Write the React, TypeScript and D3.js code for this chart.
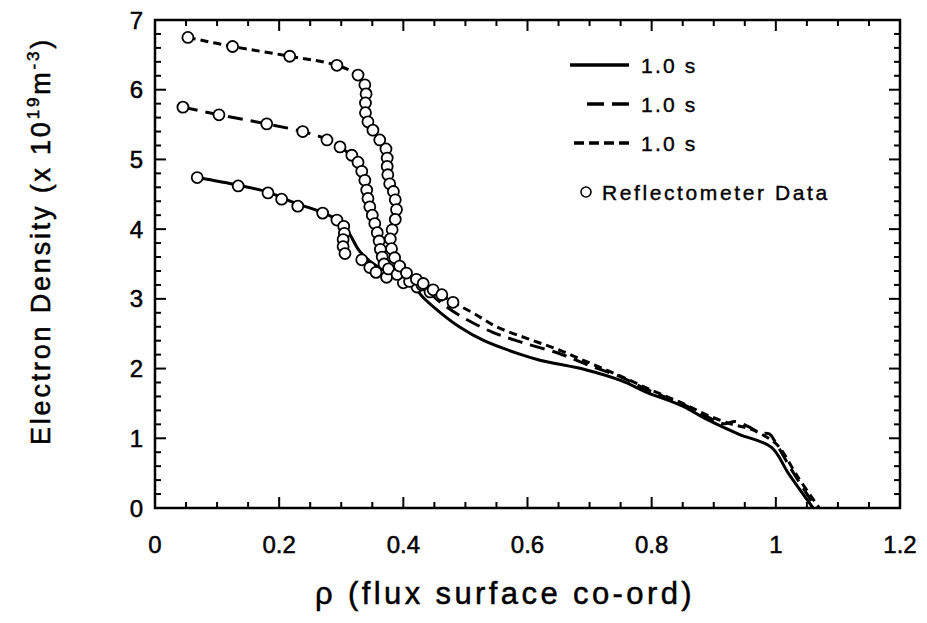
import React from "react";
import * as d3 from "d3";

const W = 927;
const H = 623;

const xTicks = [0, 0.2, 0.4, 0.6, 0.8, 1, 1.2];
const xTickLabels = ["0", "0.2", "0.4", "0.6", "0.8", "1", "1.2"];
const yTicks = [0, 1, 2, 3, 4, 5, 6, 7];
const yTickLabels = ["0", "1", "2", "3", "4", "5", "6", "7"];

// Model profiles (rho, density)
const solidLine: [number, number][] = [
  [0.068, 4.74], [0.134, 4.63], [0.182, 4.53], [0.23, 4.36], [0.27, 4.24], [0.295, 4.12],
  [0.312, 3.95], [0.33, 3.68], [0.357, 3.47], [0.385, 3.35], [0.41, 3.25], [0.432, 3.02],
  [0.46, 2.8], [0.49, 2.6], [0.53, 2.4], [0.59, 2.2], [0.62, 2.12], [0.695, 1.98],
  [0.75, 1.83], [0.792, 1.66], [0.85, 1.46], [0.889, 1.27], [0.94, 1.06], [0.993, 0.87],
  [1.02, 0.5], [1.06, 0],
];
const longDashLine: [number, number][] = [
  [0.045, 5.75], [0.103, 5.64], [0.18, 5.51], [0.238, 5.4], [0.277, 5.29], [0.298, 5.18],
  [0.316, 5.06], [0.327, 4.95], [0.333, 4.78], [0.339, 4.6], [0.343, 4.4], [0.349, 4.23],
  [0.355, 4.05], [0.36, 3.86], [0.365, 3.66], [0.369, 3.52], [0.378, 3.42], [0.392, 3.33],
  [0.412, 3.24], [0.432, 3.16], [0.46, 2.95], [0.491, 2.76], [0.544, 2.52], [0.593, 2.37],
  [0.65, 2.22], [0.695, 2.06], [0.75, 1.88], [0.792, 1.7], [0.85, 1.49], [0.889, 1.31],
  [0.915, 1.21], [0.935, 1.24], [0.955, 1.17], [0.975, 1.08], [0.99, 1.06], [1.0, 0.93],
  [1.03, 0.48], [1.065, 0],
];
const shortDashLine: [number, number][] = [
  [0.053, 6.75], [0.125, 6.62], [0.217, 6.48], [0.293, 6.35], [0.327, 6.21], [0.338, 6.07],
  [0.34, 5.94], [0.339, 5.81], [0.339, 5.67], [0.343, 5.54], [0.351, 5.42], [0.362, 5.28],
  [0.372, 5.15], [0.374, 5.02], [0.374, 4.9], [0.375, 4.77], [0.38, 4.62], [0.385, 4.48],
  [0.389, 4.3], [0.387, 4.13], [0.381, 3.99], [0.379, 3.85], [0.381, 3.7], [0.386, 3.59],
  [0.394, 3.47], [0.405, 3.37], [0.421, 3.28], [0.437, 3.2], [0.455, 3.1], [0.48, 2.95],
  [0.512, 2.8], [0.55, 2.6], [0.6, 2.43], [0.65, 2.27], [0.7, 2.08], [0.75, 1.89],
  [0.8, 1.69], [0.85, 1.5], [0.89, 1.33], [0.93, 1.2], [0.96, 1.13], [0.99, 0.99],
  [1.005, 0.88], [1.035, 0.45], [1.07, 0],
];

// Reflectometer data (rho, density)
const dataLow: [number, number][] = [
  [0.068, 4.74], [0.134, 4.62], [0.182, 4.52], [0.204, 4.43], [0.23, 4.33], [0.27, 4.23],
  [0.293, 4.13], [0.304, 4.04], [0.305, 3.94], [0.303, 3.85], [0.303, 3.75], [0.306, 3.65],
  [0.333, 3.56], [0.346, 3.45], [0.356, 3.38], [0.373, 3.31], [0.4, 3.23], [0.422, 3.17],
  [0.443, 3.1], [0.459, 3.05],
];
const dataMid: [number, number][] = [
  [0.045, 5.75], [0.103, 5.64], [0.18, 5.51], [0.238, 5.4], [0.277, 5.28], [0.298, 5.18],
  [0.317, 5.06], [0.327, 4.96], [0.333, 4.83], [0.338, 4.7], [0.341, 4.56], [0.343, 4.44],
  [0.346, 4.32], [0.35, 4.2], [0.354, 4.08], [0.358, 3.95], [0.361, 3.83], [0.363, 3.71],
  [0.366, 3.6], [0.369, 3.5], [0.376, 3.43], [0.39, 3.35], [0.41, 3.25], [0.43, 3.2],
];
const dataHigh: [number, number][] = [
  [0.053, 6.75], [0.125, 6.62], [0.217, 6.48], [0.293, 6.35], [0.327, 6.21], [0.338, 6.07],
  [0.34, 5.94], [0.339, 5.81], [0.339, 5.67], [0.343, 5.54], [0.351, 5.42], [0.362, 5.28],
  [0.372, 5.15], [0.374, 5.02], [0.374, 4.9], [0.375, 4.78], [0.378, 4.65], [0.384, 4.54],
  [0.387, 4.42], [0.389, 4.28], [0.387, 4.14], [0.382, 3.99], [0.379, 3.86], [0.381, 3.72],
  [0.386, 3.59], [0.394, 3.47], [0.405, 3.37], [0.421, 3.28], [0.432, 3.22], [0.448, 3.13],
  [0.462, 3.06], [0.48, 2.95],
];

const legendLabels = ["1.0 s", "1.0 s", "1.0 s", "Reflectometer Data"];

const FONT = "'Liberation Sans', Arial, Helvetica, sans-serif";

export default function App() {
  const left = 155, right = 900, top = 20, bottom = 508;
  const x = d3.scaleLinear().domain([0, 1.2]).range([left, right]);
  const y = d3.scaleLinear().domain([0, 7]).range([bottom, top]);
  const line = d3
    .line<[number, number]>()
    .x((d) => x(d[0]))
    .y((d) => y(d[1]))
    .curve(d3.curveCatmullRom.alpha(0.5));

  const xMinor = d3.range(0, 1.2001, 0.05);
  const yMinor = d3.range(0, 7.0001, 0.2);
  const isMajor = (v: number, step: number) => Math.abs(v / step - Math.round(v / step)) < 1e-6;

  const tickEls: React.ReactNode[] = [];
  xMinor.forEach((v, i) => {
    const len = isMajor(v, 0.2) ? 11 : 6;
    const px = x(v);
    tickEls.push(<line key={"xb" + i} x1={px} x2={px} y1={bottom} y2={bottom - len} />);
    tickEls.push(<line key={"xt" + i} x1={px} x2={px} y1={top} y2={top + len} />);
  });
  yMinor.forEach((v, i) => {
    const len = isMajor(v, 1) ? 11 : 6;
    const py = y(v);
    tickEls.push(<line key={"yl" + i} x1={left} x2={left + len} y1={py} y2={py} />);
    tickEls.push(<line key={"yr" + i} x1={right} x2={right - len} y1={py} y2={py} />);
  });

  const circles = (data: [number, number][], k: string) =>
    data.map((d, i) => (
      <circle key={k + i} cx={x(d[0])} cy={y(d[1])} r={5.5} fill="white" stroke="black" strokeWidth={1.8} />
    ));

  return (
    <svg
      width={W}
      height={H}
      style={{ position: "absolute", left: 0, top: 0, background: "white" }}
      fontFamily={FONT}
    >
      <rect x={0} y={0} width={W} height={H} fill="white" />
      <g stroke="black" strokeWidth={2}>{tickEls}</g>
      <rect x={left} y={top} width={right - left} height={bottom - top} fill="none" stroke="black" strokeWidth={2.5} />

      <g stroke="black" strokeWidth={0.5}>
        {xTicks.map((v, i) => (
          <text key={"xl" + i} x={x(v)} y={553} textAnchor="middle" fontSize={24}>
            {xTickLabels[i]}
          </text>
        ))}
        {yTicks.map((v, i) => (
          <text key={"yl" + i} x={143} y={y(v) + 8.5} textAnchor="end" fontSize={24}>
            {yTickLabels[i]}
          </text>
        ))}

        <text x={505} y={604} textAnchor="middle" fontSize={31} letterSpacing={3.4}>
          ρ (flux surface co-ord)
        </text>
        <text
          transform={`translate(50, 241) rotate(-90)`}
          textAnchor="middle"
          fontSize={27}
          letterSpacing={2.8}
        >
          Electron Density (x 10
          <tspan dy={-11} fontSize={17}>19</tspan>
          <tspan dy={11}>m</tspan>
          <tspan dy={-11} fontSize={17}>-3</tspan>
          <tspan dy={11}>)</tspan>
        </text>
      </g>

      <g fill="none" stroke="black" strokeWidth={3}>
        <path d={line(solidLine) || ""} />
        <path d={line(longDashLine) || ""} strokeDasharray="15 8" />
        <path d={line(shortDashLine) || ""} strokeDasharray="8 5" />
      </g>

      {circles(dataLow, "l")}
      {circles(dataMid, "m")}
      {circles(dataHigh, "h")}

      {/* Legend */}
      <g stroke="black" strokeWidth={3.5}>
        <line x1={570} x2={629} y1={65} y2={65} />
        <line x1={587} x2={629} y1={104} y2={104} strokeDasharray="17 8" />
        <line x1={574} x2={629} y1={143} y2={143} strokeDasharray="10 5" />
      </g>
      <circle cx={586} cy={192} r={5} fill="white" stroke="black" strokeWidth={1.6} />
      <g fontSize={21} letterSpacing={2.2} stroke="black" strokeWidth={0.4}>
        <text x={641} y={73}>{legendLabels[0]}</text>
        <text x={641} y={112}>{legendLabels[1]}</text>
        <text x={641} y={151}>{legendLabels[2]}</text>
        <text x={602} y={200} letterSpacing={2.6}>{legendLabels[3]}</text>
      </g>
    </svg>
  );
}
